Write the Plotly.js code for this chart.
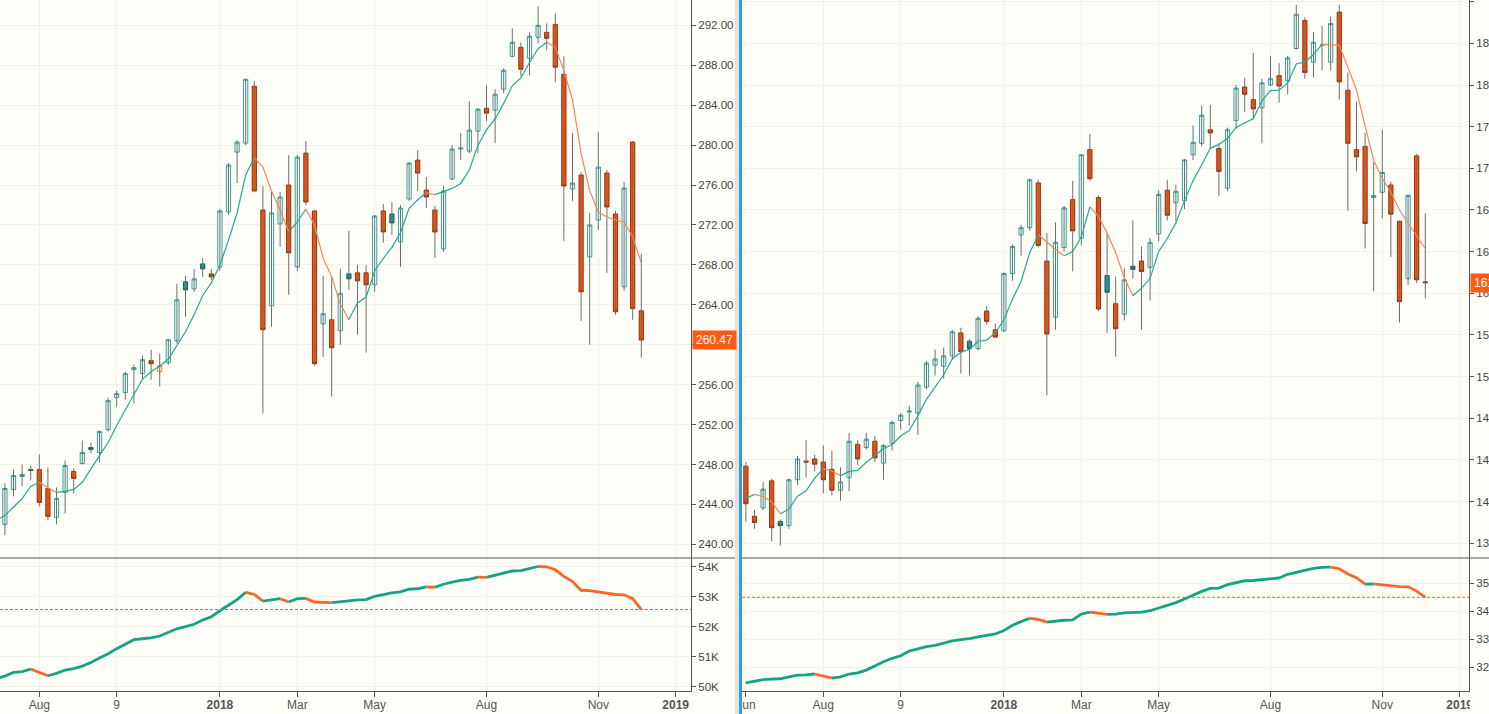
<!DOCTYPE html>
<html><head><meta charset="utf-8">
<script src="https://cdn.plot.ly/plotly-3.0.1.min.js"></script>
<style>html,body{margin:0;padding:0;overflow:hidden;background:#fefef8;width:1489px;height:714px}</style>
</head><body>
<div id="chart" style="width:1520px;height:714px"></div>
<script>
// weekly candles (Monday dates)
const weeks = ['2017-06-05','2017-06-12','2017-06-19','2017-06-26','2017-07-03','2017-07-10','2017-07-17','2017-07-24','2017-07-31','2017-08-07','2017-08-14','2017-08-21','2017-08-28','2017-09-04','2017-09-11','2017-09-18','2017-09-25','2017-10-02','2017-10-09','2017-10-16','2017-10-23','2017-10-30','2017-11-06','2017-11-13','2017-11-20','2017-11-27','2017-12-04','2017-12-11','2017-12-18','2017-12-25','2018-01-01','2018-01-08','2018-01-15','2018-01-22','2018-01-29','2018-02-05','2018-02-12','2018-02-19','2018-02-26','2018-03-05','2018-03-12','2018-03-19','2018-03-26','2018-04-02','2018-04-09','2018-04-16','2018-04-23','2018-04-30','2018-05-07','2018-05-14','2018-05-21','2018-05-28','2018-06-04','2018-06-11','2018-06-18','2018-06-25','2018-07-02','2018-07-09','2018-07-16','2018-07-23','2018-07-30','2018-08-06','2018-08-13','2018-08-20','2018-08-27','2018-09-03','2018-09-10','2018-09-17','2018-09-24','2018-10-01','2018-10-08','2018-10-15','2018-10-22','2018-10-29','2018-11-05','2018-11-12','2018-11-19','2018-11-26','2018-12-03','2018-12-10'];

// ---- left chart (from 2017-07-03) ----
const leftDates = weeks.slice(4);
const leftOpen = [242.9,242.0,245.5,246.8,247.5,247.5,245.6,242.7,245.2,247.3,
248.1,249.7,249.2,251.5,254.7,255.2,257.5,257.1,258.4,257.3,
258.2,260.4,266.3,265.6,268.1,267.1,267.8,273.3,279.3,280.2,
285.9,273.5,263.9,272.1,276.0,267.8,279.2,273.4,262.1,262.5,
261.4,267.1,267.2,267.2,266.0,273.4,273.1,270.3,274.6,278.5,
275.5,273.5,269.6,276.6,279.6,279.4,281.4,283.7,283.5,285.6,
288.9,289.8,288.7,290.8,291.3,292.1,287.1,275.6,277.0,268.8,
272.5,277.2,273.1,265.8,280.3,263.4];
const leftHigh = [243.4,246.1,247.5,248.0,247.9,249.0,247.7,245.7,248.4,247.6,
250.4,250.2,251.4,254.7,255.4,257.3,258.0,258.9,259.5,259.1,
260.5,266.1,266.9,267.6,268.7,267.6,273.6,278.2,280.5,286.6,
286.4,275.9,275.3,275.3,279.0,279.0,280.4,273.5,266.9,266.8,
267.6,271.4,268.0,268.0,273.0,274.1,274.3,274.0,278.3,279.5,
276.8,273.9,275.9,280.0,281.2,284.4,283.7,286.0,285.6,287.7,
291.7,290.3,291.3,293.9,292.2,293.2,288.9,281.2,277.3,273.2,
281.3,277.5,273.4,276.3,280.4,269.1];
const leftLow = [240.6,240.9,244.8,245.8,246.4,243.8,242.4,242.0,243.1,245.1,
248.0,249.1,248.2,251.3,253.8,254.5,254.1,256.5,256.5,255.8,
258.0,260.1,262.8,265.3,266.8,266.5,267.4,273.0,276.2,280.0,
275.4,253.1,261.8,269.8,265.0,267.4,274.0,257.9,258.8,254.8,
260.0,265.5,261.0,259.2,265.3,270.2,271.0,267.8,274.4,275.4,
273.7,268.7,269.3,276.5,278.5,279.2,279.2,282.4,280.2,285.2,
288.8,286.9,287.0,290.2,289.5,286.3,270.4,274.4,262.4,260.0,
271.5,267.2,263.0,265.4,262.5,258.7];
const leftClose = [242.1,245.6,246.9,247.0,247.4,244.2,242.8,244.6,247.9,246.6,
249.2,249.5,251.3,254.4,255.1,257.1,257.7,258.5,258.1,257.9,
260.5,264.5,265.5,266.6,267.6,266.8,273.4,278.0,280.3,286.6,
275.4,261.5,273.2,274.8,269.2,278.8,274.3,258.1,263.1,259.7,
265.15,266.6,266.4,266.0,272.9,271.3,272.2,273.7,278.2,277.2,
274.8,271.3,275.4,279.6,279.7,281.5,283.6,283.2,285.1,287.5,
290.3,287.6,290.9,292.0,290.7,287.8,275.9,276.2,265.3,272.0,
277.8,273.8,263.3,275.7,263.6,260.47];
const leftMA = [242.44,242.88,243.74,244.58,245.80,246.22,245.66,245.20,245.30,245.50,
246.22,247.56,248.90,250.20,251.90,253.48,255.12,256.56,257.30,257.86,
258.54,259.90,261.30,263.00,264.94,266.20,267.98,270.48,273.22,277.02,
278.74,277.80,275.40,273.50,271.30,272.30,273.60,272.00,268.70,266.80,
264.07,262.53,264.19,264.77,267.41,268.64,269.76,271.22,273.66,274.52,
275.22,275.04,275.38,275.66,276.16,277.50,279.96,281.52,282.62,284.18,
285.94,286.74,288.28,289.66,290.30,289.80,287.46,284.52,279.18,275.44,
273.30,272.80,272.50,272.30,270.80,268.20];
const leftInd = [50.28,50.36,50.48,50.51,50.59,50.48,50.37,50.45,50.56,50.61,
50.69,50.81,50.96,51.10,51.27,51.42,51.57,51.60,51.63,51.69,
51.80,51.93,52.00,52.08,52.22,52.33,52.53,52.73,52.90,53.14,
53.07,52.85,52.89,52.93,52.82,52.93,52.94,52.82,52.81,52.80,
52.84,52.86,52.89,52.90,53.01,53.07,53.12,53.16,53.25,53.26,
53.32,53.31,53.41,53.48,53.54,53.57,53.65,53.64,53.71,53.78,
53.85,53.86,53.92,54.00,53.99,53.89,53.67,53.50,53.21,53.20,
53.16,53.13,53.07,53.06,52.93,52.57];

// ---- right chart (from 2017-06-05) ----
const rightDates = weeks;
const rightOpen = [143.4,138.6,139.4,142.0,138.1,137.7,142.1,143.9,144.1,143.8,
143.1,141.1,142.3,145.5,145.2,145.8,143.7,145.6,147.8,148.6,
148.5,151.0,153.1,153.0,154.0,156.2,155.4,154.7,158.3,156.5,
156.4,161.9,165.6,166.3,170.6,163.1,157.7,164.4,169.0,165.3,
173.8,169.2,161.7,159.0,158.0,162.6,163.1,162.5,165.7,169.9,
168.7,168.9,173.3,174.4,175.7,173.9,170.1,176.6,179.8,178.6,
177.8,180.0,180.9,180.4,183.5,186.2,182.2,183.8,182.2,187.0,
179.5,173.8,174.1,169.2,169.7,170.4,166.9,161.4,173.2,161.1];
const rightHigh = [143.8,139.2,141.9,142.2,138.3,142.2,144.4,145.9,144.5,145.4,
144.9,143.3,146.6,145.9,146.6,146.3,145.5,147.8,148.5,149.2,
151.5,153.5,154.6,154.8,156.5,156.7,155.6,157.8,158.8,157.1,
162.0,164.7,166.6,171.0,170.9,165.8,166.8,168.4,170.8,173.3,
175.3,169.4,165.7,161.6,162.4,167.0,164.5,165.3,169.9,170.9,
170.4,172.9,176.1,178.0,178.1,174.4,175.9,180.0,180.7,183.1,
180.6,182.8,182.1,182.8,187.7,186.5,185.1,185.7,186.6,187.7,
181.2,178.4,175.4,172.6,175.7,170.7,167.0,169.5,173.4,167.7];
const rightLow = [138.1,137.4,139.2,136.2,135.8,137.4,141.6,142.3,142.9,140.8,
140.6,140.1,141.0,143.5,145.0,143.8,142.1,144.9,146.9,147.3,
146.4,150.8,152.1,151.8,153.6,152.3,152.1,154.5,157.0,155.7,
156.3,161.2,163.6,166.0,164.4,150.2,156.5,164.0,162.1,164.6,
170.8,158.3,156.2,153.9,157.4,161.4,156.5,159.3,165.0,167.0,
166.9,168.1,172.8,174.1,173.9,169.3,169.8,175.8,177.4,176.7,
174.4,179.9,178.3,179.1,183.4,180.6,180.7,181.4,181.4,178.6,
167.9,171.7,164.3,160.2,167.2,163.5,157.2,160.8,161.0,159.5];
const rightClose = [139.8,138.0,141.2,137.5,137.7,142.1,144.1,143.8,143.6,142.1,
141.1,141.9,145.8,144.1,146.0,144.2,145.4,147.6,148.3,148.7,
151.2,153.3,153.7,154.0,156.3,154.4,154.7,157.6,157.3,155.8,
161.9,164.5,166.3,170.9,164.6,156.1,164.9,168.2,166.0,173.3,
171.0,158.5,160.1,156.6,161.3,162.3,162.1,164.9,169.5,167.5,
169.8,172.8,174.5,177.1,175.4,171.7,175.7,179.7,179.1,177.7,
180.2,180.6,179.9,182.6,186.8,181.2,184.1,183.85,185.9,180.3,
174.4,173.1,166.7,169.4,171.6,167.6,159.2,169.4,161.3,161.02];
const rightMA = [140.30,140.70,140.50,139.98,138.84,139.30,140.52,141.04,142.26,143.14,
142.94,142.50,142.90,143.00,143.78,144.40,145.10,145.46,146.30,146.84,
148.24,149.82,151.04,152.18,153.70,154.34,154.62,155.40,155.50,156.20,
157.46,159.42,161.16,163.88,165.64,164.90,164.20,163.60,164.00,165.40,
168.30,167.40,165.78,163.90,161.50,159.76,160.48,161.44,164.02,165.26,
166.76,168.90,170.82,172.34,173.92,174.30,174.88,175.92,176.32,176.78,
178.48,179.46,179.50,180.20,182.02,182.22,182.92,183.90,183.85,183.80,
181.71,179.51,176.08,172.78,171.04,169.68,168.00,166.70,165.50,164.30];
const rightInd = [31.43,31.48,31.55,31.57,31.58,31.65,31.71,31.72,31.75,31.67,
31.60,31.65,31.75,31.79,31.89,32.04,32.19,32.31,32.40,32.57,
32.66,32.73,32.77,32.85,32.93,32.98,33.01,33.08,33.14,33.18,
33.30,33.49,33.62,33.74,33.70,33.60,33.64,33.67,33.68,33.89,
33.96,33.92,33.88,33.89,33.93,33.95,33.96,34.01,34.11,34.20,
34.30,34.43,34.57,34.70,34.81,34.82,34.94,35.00,35.08,35.09,
35.12,35.14,35.18,35.31,35.38,35.43,35.52,35.56,35.565,35.51,
35.32,35.19,34.96,34.965,34.93,34.88,34.87,34.865,34.71,34.49];

const xTickVals = ['2017-06-05','2017-08-07','2017-10-09','2018-01-01','2018-03-05','2018-05-07','2018-08-06','2018-11-05','2019-01-07'];
const xTickText = ['Jun','Aug','9','<b>2018</b>','Mar','May','Aug','Nov','<b>2019</b>'];

// ---- styling ----
const BG = '#fefef8';
const GRID = '#f1f1ea';
const AX = '#555555';
const W = 1520, H = 714, PH = 691;
const D = 133 / PH;
const FONT = 'Liberation Sans, Arial, sans-serif';
const styles = {
  hollowTeal:   {line:'#30a09b', fill:BG},
  hollowOrange: {line:'#f0783a', fill:BG},
  filledTeal:   {line:'#145e5b', fill:'#1f9a96'},
  filledRed:    {line:'#a02a08', fill:'#ff5300'}
};

function runs(dates, vals, upC, downC, width, xa, ya) {
  const out = []; let cur = null;
  for (let i = 0; i < vals.length - 1; i++) {
    const dir = vals[i+1] >= vals[i] ? 'u' : 'd';
    if (!cur || cur.dir !== dir) { cur = {dir, x:[dates[i]], y:[vals[i]]}; out.push(cur); }
    cur.x.push(dates[i+1]); cur.y.push(vals[i+1]);
  }
  return out.map(r => ({type:'scatter', mode:'lines', x:r.x, y:r.y, xaxis:xa, yaxis:ya,
    line:{color: r.dir === 'u' ? upC : downC, width, shape:'linear'}, hoverinfo:'skip', showlegend:false}));
}

function chart(dates, O, Hh, L, C, MA, IND, xa, ya, xa2, ya2) {
  const tr = [];
  const wx = [], wy = [];
  for (let i = 0; i < dates.length; i++) { wx.push(dates[i], dates[i], null); wy.push(L[i], Hh[i], null); }
  tr.push({type:'scatter', mode:'lines', x:wx, y:wy, xaxis:xa, yaxis:ya, line:{color:'#6e6e6e', width:1}, hoverinfo:'skip', showlegend:false});
  const g = {};
  for (let i = 0; i < dates.length; i++) {
    const up = C[i] >= O[i];
    const prev = i > 0 ? C[i-1] : O[i];
    const rising = C[i] >= prev;
    const key = up ? (rising ? 'hollowTeal' : 'hollowOrange') : (rising ? 'filledTeal' : 'filledRed');
    if (!g[key]) g[key] = {x:[], o:[], h:[], l:[], c:[]};
    g[key].x.push(dates[i]); g[key].o.push(O[i]); g[key].c.push(C[i]);
    g[key].h.push(Math.max(O[i], C[i])); g[key].l.push(Math.min(O[i], C[i]));
  }
  for (const key of Object.keys(g)) {
    const s = styles[key], d = g[key];
    const st = {line:{color:s.line, width:1}, fillcolor:s.fill};
    tr.push({type:'candlestick', x:d.x, open:d.o, high:d.h, low:d.l, close:d.c, xaxis:xa, yaxis:ya,
      increasing:st, decreasing:st, whiskerwidth:0, hoverinfo:'skip', showlegend:false});
  }
  tr.push(...runs(dates, MA, '#26a69a', '#f5845a', 1.2, xa, ya));
  tr.push(...runs(dates, IND, '#14a383', '#ff6526', 2.8, xa2, ya2));
  return tr;
}

const data = [
  ...chart(leftDates, leftOpen, leftHigh, leftLow, leftClose, leftMA, leftInd, 'x', 'y', 'x2', 'y2'),
  ...chart(rightDates, rightOpen, rightHigh, rightLow, rightClose, rightMA, rightInd, 'x3', 'y3', 'x4', 'y4')
];

const L0 = 0, L1 = 691 / W, R0 = 742 / W, R1 = 1469 / W;
const leftRange = ['2017-07-06 00:00', '2019-01-19 11:00'];
const rightRange = ['2017-06-01 20:00', '2019-01-14 14:00'];

function xMain(dom, range, anchor) {
  return {domain:dom, range, type:'date', anchor, tickvals:xTickVals, ticktext:xTickText,
    showticklabels:false, ticks:'', showgrid:true, gridcolor:GRID, gridwidth:1, zeroline:false,
    showline:false, rangeslider:{visible:false}, fixedrange:true};
}
function xLow(dom, range, anchor) {
  return {domain:dom, range, type:'date', anchor, tickvals:xTickVals, ticktext:xTickText,
    showticklabels:true, ticks:'outside', ticklen:5, tickcolor:AX, ticklabelstandoff:-2,
    tickfont:{family:FONT, size:12, color:'#555'},
    showgrid:true, gridcolor:GRID, gridwidth:1, zeroline:false, showline:true, linecolor:AX, linewidth:1,
    rangeslider:{visible:false}, fixedrange:true};
}
function yAx(dom, range, anchor, dtick, fmt, suffix) {
  return {domain:dom, range, anchor, side:'right', dtick, tick0:0, tickformat:fmt, ticksuffix:suffix || '',
    ticks:'outside', ticklen:4, tickcolor:AX, showline:true, linecolor:AX, linewidth:1,
    showgrid:true, gridcolor:GRID, gridwidth:1, zeroline:false,
    tickfont:{family:FONT, size:11.5, color:'#444'}, fixedrange:true};
}

const lastL = leftClose[leftClose.length - 1];
const lastR = rightClose[rightClose.length - 1];

const layout = {
  width:W, height:H, margin:{l:0, r:0, t:0, b:H - PH}, paper_bgcolor:BG, plot_bgcolor:BG,
  showlegend:false, font:{family:FONT},
  xaxis: xMain([L0, L1], leftRange, 'y'),
  yaxis: yAx([D, 1], [238.63, 294.54], 'x', 4, '.2f'),
  xaxis2: xLow([L0, L1], leftRange, 'y2'),
  yaxis2: yAx([0, D], [49.864, 54.282], 'x2', 1, '.0f', 'K'),
  xaxis3: xMain([R0, R1], rightRange, 'y3'),
  yaxis3: yAx([D, 1], [134.59, 188.16], 'x3', 4, '.2f'),
  xaxis4: xLow([R0, R1], rightRange, 'y4'),
  yaxis4: yAx([0, D], [31.143, 35.893], 'x4', 1, '.0f', 'K'),
  shapes: [
    {type:'line', xref:'x2 domain', yref:'y2', x0:0, x1:1, y0:leftInd[leftInd.length-1], y1:leftInd[leftInd.length-1], line:{color:'#e8661e', width:1, dash:'3px,2px'}},
    {type:'line', xref:'x4 domain', yref:'y4', x0:0, x1:1, y0:rightInd[rightInd.length-1], y1:rightInd[rightInd.length-1], line:{color:'#e8661e', width:1, dash:'3px,2px'}},
    {type:'line', xref:'paper', yref:'paper', x0:0, x1:735 / W, y0:D, y1:D, line:{color:AX, width:1}, layer:'above'},
    {type:'line', xref:'paper', yref:'paper', x0:742 / W, x1:1, y0:D, y1:D, line:{color:AX, width:1}, layer:'above'},
    {type:'rect', xref:'paper', yref:'paper', x0:1470 / W, x1:1, y0:-(H - PH) / PH, y1:0, fillcolor:BG, line:{width:0}, layer:'above'},
    {type:'rect', xref:'paper', yref:'paper', x0:735 / W, x1:739 / W, y0:-(H - PH) / PH, y1:1, fillcolor:'#e3e3e0', line:{width:0}, layer:'above'},
    {type:'rect', xref:'paper', yref:'paper', x0:739 / W, x1:742 / W, y0:-(H - PH) / PH, y1:1, fillcolor:'#2b9fe0', line:{width:0}, layer:'above'}
  ],
  annotations: [
    {xref:'paper', yref:'y', x:692 / W, y:lastL, xanchor:'left', yanchor:'middle', text:lastL.toFixed(2), showarrow:false,
     bgcolor:'#ff5a12', font:{family:FONT, size:12, color:'#ffffff'}, borderpad:2, width:39, align:'center'},
    {xref:'paper', yref:'y3', x:1470 / W, y:lastR, xanchor:'left', yanchor:'middle', text:lastR.toFixed(2), showarrow:false,
     bgcolor:'#ff5a12', font:{family:FONT, size:12, color:'#ffffff'}, borderpad:2, width:39, align:'center'}
  ]
};

Plotly.newPlot('chart', data, layout, {staticPlot:true, displayModeBar:false});
</script>
</body></html>
